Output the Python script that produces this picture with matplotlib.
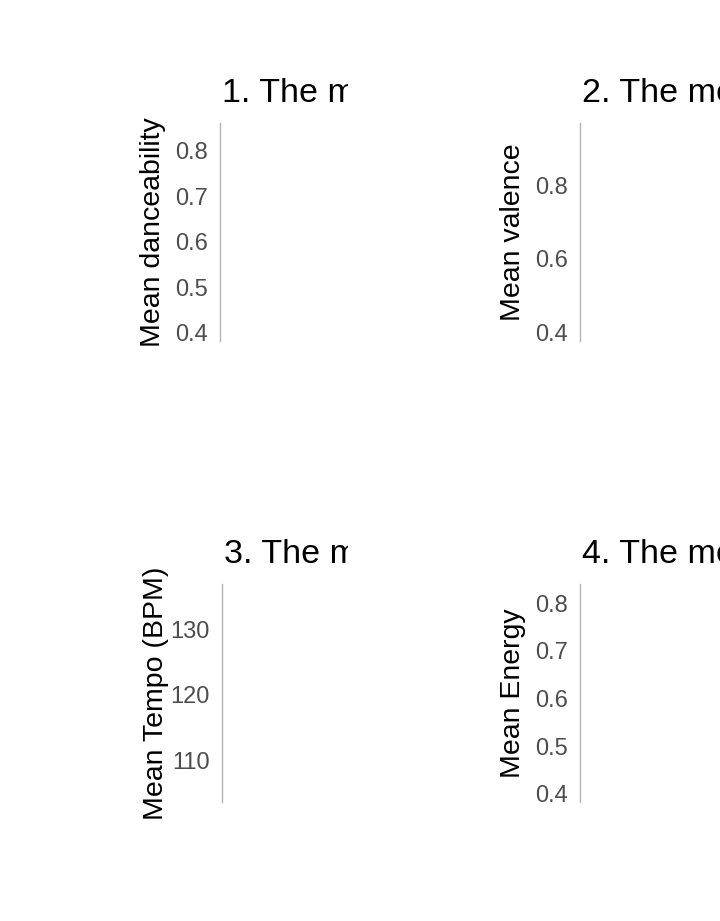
import matplotlib
matplotlib.use("Agg")
import matplotlib.pyplot as plt
from matplotlib.transforms import Bbox

plt.rcParams['font.family'] = ['Liberation Sans', 'DejaVu Sans']

panel_titles = [
    "1. The mean danceability of songs over time",
    "2. The mean valence of songs over time",
    "3. The mean tempo of songs over time",
    "4. The mean energy of songs over time",
]
y_labels = ["Mean danceability", "Mean valence", "Mean Tempo (BPM)", "Mean Energy"]
y_limits = [(0.382, 0.8615), (0.378, 0.968), (103.6, 136.9), (0.383, 0.840)]
y_ticks = [
    [0.4, 0.5, 0.6, 0.7, 0.8],
    [0.4, 0.6, 0.8],
    [110, 120, 130],
    [0.4, 0.5, 0.6, 0.7, 0.8],
]
tick_fmt = ["{:.1f}", "{:.1f}", "{:.0f}", "{:.1f}"]

W, H = 720, 921
fig = plt.figure(figsize=(W / 100, H / 100), dpi=100)
fig.patch.set_facecolor("white")

# pixel boxes: (left, top, right, bottom)
boxes = [(220, 123, 348, 341), (580, 123, 708, 341),
         (222, 584, 348, 802), (580, 584, 708, 802)]
clip_right = [348, 720, 348, 720]
label_pads = [6, 6, 1, 6]

for i in range(4):
    l, t, r, b = boxes[i]
    ax = fig.add_axes([l / W, (H - b) / H, (r - l) / W, (b - t) / H])
    ax.set_facecolor("none")
    ax.set_ylim(*y_limits[i])
    ax.set_xlim(0, 1)
    ax.set_yticks(y_ticks[i])
    ax.set_yticklabels([tick_fmt[i].format(v) for v in y_ticks[i]])
    ax.set_xticks([])
    for s in ["top", "right", "bottom"]:
        ax.spines[s].set_visible(False)
    ax.spines["left"].set_color("#b3b3b3")
    ax.spines["left"].set_linewidth(1.0)
    ax.tick_params(axis="y", length=0, pad=9, labelsize=17, labelcolor="#4d4d4d")
    ax.set_ylabel(y_labels[i], fontsize=20.5, color="black", labelpad=label_pads[i])
    title = ax.set_title(panel_titles[i], loc="left", fontsize=24.5, color="black", pad=15)
    title.set_x(0.015)
    title.set_clip_on(True)
    title.set_clip_box(Bbox.from_extents(0, 0, clip_right[i], H))

fig.savefig("out.png", dpi=100, facecolor="white")
